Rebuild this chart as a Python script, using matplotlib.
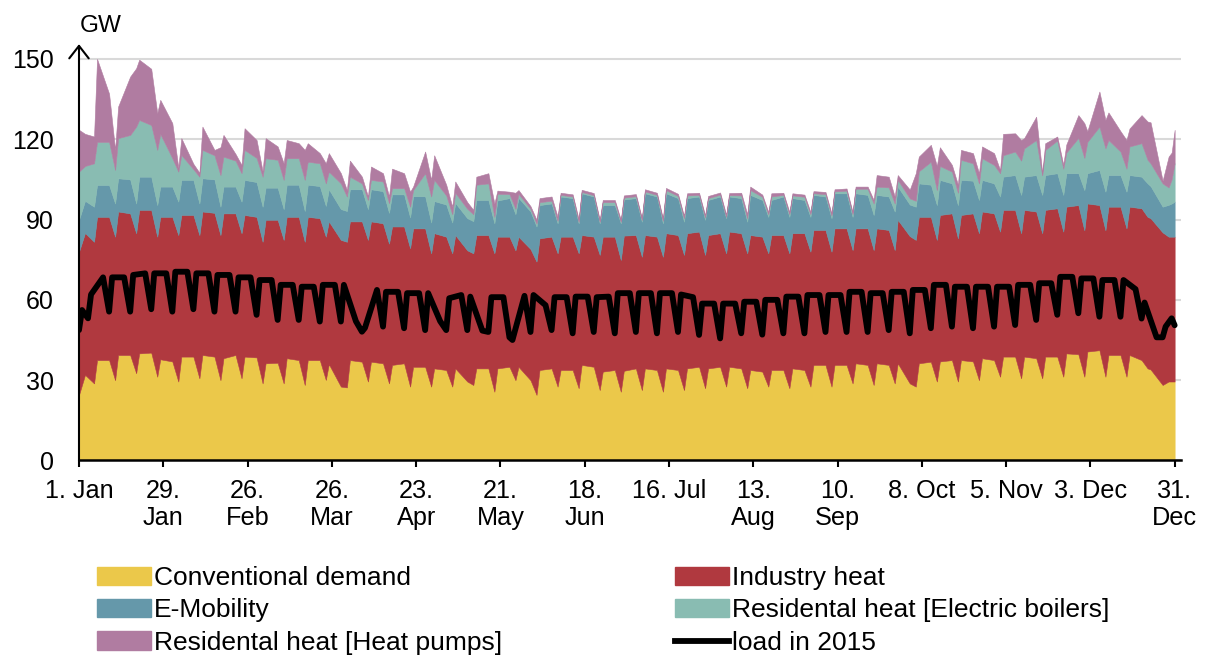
import matplotlib
matplotlib.use('Agg')
import matplotlib.pyplot as plt
from matplotlib.patches import Patch
from matplotlib.lines import Line2D

plt.rcParams['font.family'] = ['Liberation Sans', 'DejaVu Sans']

# Sample days (day of year, 0 = 1 Jan): Monday, Friday, Sunday of each week.
# The scenario year starts on a Tuesday, the 2015 load on a Thursday.
dias_cenario = [0, 2, 5] + [d for k in range(51) for d in (6 + 7 * k, 10 + 7 * k, 12 + 7 * k)] + [363, 364]
dias_2015 = [0, 1, 3] + [d for k in range(51) for d in (4 + 7 * k, 8 + 7 * k, 10 + 7 * k)] + [361, 363, 364]

# GW per layer
conventional = [24.5, 32, 28.8,
    37.5, 37.5, 30, 39.4, 39.4, 32.6, 40, 40.3, 31.3, 37.8, 37, 29.5,
    38.8, 38.8, 30.7, 39.4, 38.8, 30, 38.2, 39.4, 30.7, 38.8, 38.5, 28.8,
    36.3, 36.5, 28.8, 38.2, 37.5, 28.2, 37.5, 37.5, 30.1, 36, 27.6, 27.3,
    37.5, 36.9, 29.5, 36.9, 36.3, 28.8, 35.7, 36.3, 27.6, 35, 35, 27.6,
    34.4, 33.8, 27.6, 34.4, 29.5, 28.2, 34.4, 34.4, 25.7, 34.4, 35, 30,
    35, 30, 24.5, 33.8, 34.4, 27.6, 33.8, 33.8, 27, 35.7, 35, 26.3,
    33.2, 33.8, 25.7, 33.5, 34.4, 26.3, 34.4, 33.8, 25.7, 34.4, 33.8, 26.3,
    34.4, 35, 27, 34.4, 35, 27.6, 35, 34.4, 27, 33.8, 33.2, 27.6,
    33.8, 33.8, 27, 34.4, 33.8, 27.6, 35.7, 35.7, 27.6, 35.7, 35.7, 28.8,
    36.3, 35.7, 28.2, 36.3, 35.7, 28.8, 36.3, 28.8, 27.6, 36.3, 36.9, 29.5,
    37, 37.5, 29.5, 37.5, 37, 30, 38.2, 37.5, 31.3, 38.8, 38.8, 30.7,
    38.8, 38.2, 30.7, 38.8, 38.8, 31.3, 40, 39.7, 31.3, 40.7, 41.2, 31.3,
    39.4, 39.4, 31.3, 39.4, 37.5, 34.4, 34, 28.2, 29.5,
    29.5, 29.5]

industry_heat = [53.5, 53, 52.9,
    53.5, 53.5, 53.6, 53.6, 52.9, 52.3, 53.6, 53.3, 52.3, 53.2, 54, 54.7,
    52.9, 52.9, 53.5, 53.6, 53.7, 54.2, 54.1, 52.9, 54.2, 52.9, 52.5, 52.9,
    53.6, 53.4, 53.6, 52.8, 53.5, 53.5, 53.5, 53, 53.5, 53.3, 54.8, 54.4,
    51.8, 52.4, 52.9, 52.4, 52.3, 52.2, 51.7, 51.1, 51.7, 51.7, 51.7, 49.8,
    50.5, 49.8, 49.8, 49.8, 49, 49.2, 49.8, 49.8, 51.7, 49.2, 48.6, 48.5,
    48.6, 49, 49.8, 49.2, 49.2, 49.8, 49.8, 49.8, 50.4, 48.5, 48.6, 50.5,
    50.4, 49.8, 49.2, 50.5, 49.8, 49.8, 49.8, 49.8, 50.4, 50.5, 50.4, 50.5,
    50.5, 50.5, 49.8, 49.8, 49.9, 49.8, 50.5, 50.5, 50.4, 50.4, 50.4, 49.8,
    50.4, 50.4, 50.4, 50.5, 51.1, 50.4, 50.4, 50.4, 50.4, 51, 51, 49.8,
    50.4, 51, 50.4, 50.4, 50.4, 49.8, 53.6, 55, 54.8, 54.7, 54.1, 52.9,
    54.7, 54.8, 53.5, 54.2, 55.3, 54.9, 54.8, 54.8, 54.2, 54.8, 54.8, 54.2,
    54.8, 54.8, 54.2, 54.8, 55.4, 54.2, 54.8, 55.7, 54.7, 55.3, 54.2, 54.7,
    55.4, 55.4, 55.4, 55.4, 56.7, 56.6, 56.5, 57, 54.1,
    54.1, 54.1]

e_mobility = [11.9, 12, 13.1,
    11.9, 11.9, 12.4, 12.4, 12.7, 11.1, 12.4, 12.4, 11.8, 11.3, 11.3, 12.5,
    13.1, 13.1, 11.8, 12.4, 12.5, 10.6, 10, 10, 11.8, 13.1, 13, 13.1,
    12, 12, 11.5, 12, 12, 11.5, 12, 12, 11.5, 12, 11.5, 11.5,
    12, 12, 11.5, 12, 12, 11.5, 12, 12, 11.5, 12, 12, 11.5,
    12, 12, 11.5, 12, 12, 12, 13.1, 13.1, 11.2, 13.5, 14.4, 13.5,
    14.5, 14, 13.1, 12.4, 12.4, 11.2, 15, 14.4, 11.2, 15.6, 15, 11.8,
    11.8, 11.8, 13.7, 13.5, 13.8, 13.1, 15.6, 15, 12.5, 14.9, 13.8, 12.4,
    13.1, 13.1, 13.1, 13.1, 13.7, 13.1, 13.1, 13.1, 11.8, 15, 13.7, 13.6,
    13.1, 14.4, 13.6, 13.1, 12.4, 13, 13.1, 12.5, 12.5, 13.1, 13.1, 12.4,
    13.1, 12.5, 13.1, 12.5, 12.5, 14.4, 12.4, 11.8, 12.4, 12.5, 12, 13,
    13.1, 11.2, 12.4, 13.1, 12.2, 12.4, 11.8, 11.2, 13.1, 12.4, 13, 14.3,
    12.4, 13.6, 14.3, 13, 13.1, 13.7, 12.5, 11.9, 15, 11.3, 13.1, 14.4,
    11.8, 11.8, 13.7, 11.8, 11.8, 12.5, 12, 9.6, 11.9,
    12.4, 13.1]

electric_boilers = [18, 13, 16.2,
    16.1, 16.1, 12.5, 15, 16.6, 28.7, 21.2, 19.3, 20.6, 19.7, 10.6, 11.2,
    9.3, 4, 10, 10.6, 9, 11.8, 11.2, 9.7, 10.6, 11.2, 9, 11.2,
    11, 10.4, 10.9, 9.9, 9.9, 11.6, 8.6, 8.5, 8.4, 6.6, 9.6, 5.4,
    4.7, 2.2, 3.4, 3.5, 3.6, 3.6, 2.3, 2.3, 4, 2.3, 8.6, 9.7,
    7.9, 3.4, 3.1, 3.8, 3.5, 2.6, 5.7, 6.2, 2.4, 2.5, 1.5, 2,
    1.5, 1, 1.1, 1.1, 1, 0.9, 0.6, 0.6, 0.5, 0.5, 0.5, 0.5,
    1.1, 1.1, 0.5, 0.7, 0.7, 0.6, 0.7, 0.6, 0.9, 1.2, 0.8, 1.3,
    1, 0.6, 0.9, 0.7, 0.7, 0.5, 0.5, 1, 1.3, 1.8, 1.2, 1,
    1.3, 0.6, 1, 1, 1.2, 1, 0.6, 0.9, 1, 0.7, 1, 1,
    1.7, 2.3, 4.3, 3.1, 3.4, 3, 2.5, 2.3, 2.2, 4.5, 8.6, 5.6,
    5.2, 4.4, 4.6, 7.5, 6.5, 6.2, 8.1, 6.9, 8.7, 8, 8.8, 12.8,
    10.6, 13.1, 7.3, 9.4, 12.2, 9.8, 7.7, 13.2, 12, 11.7, 16.2, 16.2,
    13.1, 8.8, 8.6, 10.7, 12.5, 8.8, 8.5, 8.7, 6.5,
    9, 14.3]

heat_pumps = [15.6, 12, 10,
    31, 18, 7.5, 11.8, 21.8, 21.8, 22.5, 21, 13.7, 12.7, 13.1, 1.5,
    6.3, 2, 1.5, 8.7, 2, 10.4, 8.1, 2.5, 3.1, 8.1, 6.7, 2,
    7.5, 5, 6.2, 6.8, 5.6, 11.2, 6.9, 3.8, 7.5, 6.9, 3.8, 2.4,
    6, 2.5, 1.3, 5, 3.1, 2.5, 7.3, 5.6, 5.6, 1.3, 8.1, 6.2,
    9.2, 4, 2.8, 4.2, 2.5, 1.6, 3, 3.8, 5, 1.2, 0.9, 6,
    1.4, 1, 1.4, 1.5, 1.6, 1.5, 0.8, 0.8, 1, 0.8, 0.8, 0.8,
    0.8, 0.8, 0.8, 0.8, 0.8, 0.7, 0.8, 0.8, 0.8, 0.8, 0.8, 0.8,
    0.8, 0.8, 0.8, 0.8, 0.8, 0.8, 0.8, 1, 1.5, 1.3, 0.8, 0.8,
    1.2, 0.8, 0.8, 0.8, 0.8, 0.8, 0.8, 0.8, 0.8, 0.8, 0.8, 0.8,
    0.8, 0.8, 1.3, 4.3, 4, 2.6, 1.8, 3.3, 10.3, 5.5, 6.3, 9,
    7, 2.5, 3, 3.7, 3.8, 3.8, 4.4, 4.4, 1.2, 8, 6.8, 7.7,
    3.8, 8.7, 1, 2.5, 1.5, 1.5, 3, 8.5, 13, 4, 13.1, 10.6,
    10.3, 7.6, 10.7, 6.7, 10.5, 14.3, 15.3, 1, 11.5,
    10, 12.5]

load_2015 = [48.7, 56.2, 53.1,
    62, 68.4, 55.6, 68.4, 68.4, 55.6, 69.3, 69.9, 56.5, 69.9, 69.9, 55.6,
    70.5, 70.5, 56.5, 69.9, 69.9, 55.6, 69.3, 69.3, 55.6, 68.4, 68.4, 54.4,
    67.4, 67.4, 52.5, 65.6, 65.6, 52.5, 64.9, 64.9, 51.9, 65.6, 65.6, 51.9,
    65.6, 52, 48.1, 49.5, 63.7, 50, 63, 63, 49.4, 62.5, 62.5, 48.7,
    62.5, 52, 48.7, 60.6, 61.8, 48.7, 61.2, 48.5, 48, 61, 61, 46,
    45, 61.5, 48, 61.8, 58, 48.7, 61, 61, 47.5, 61.2, 61.2, 48,
    61, 61.2, 47.5, 62.5, 62.5, 48, 62.5, 62.5, 47.5, 62.5, 62.5, 48,
    62, 61, 46.9, 58.6, 58.6, 45.6, 58.6, 58.6, 47.5, 59.3, 59.3, 47,
    60, 60, 47.5, 61.2, 61.2, 47.5, 61.8, 61.8, 48, 61.8, 61.8, 48,
    63, 63, 48, 62.5, 62.5, 48.7, 63, 63, 47.5, 63.7, 63.7, 49.4,
    65.6, 65.6, 50, 64.9, 64.9, 49.4, 64.9, 64.9, 50, 64.9, 64.9, 50.6,
    65.6, 65.6, 52.5, 66.2, 66.2, 54.4, 68.6, 68.6, 55, 68, 68, 53.7,
    67.4, 67.4, 53.7, 67.4, 64, 53, 59, 46, 46,
    50, 53.1, 50.5]

series_labels = ['Conventional demand', 'Industry heat', 'E-Mobility',
                 'Residental heat [Electric boilers]', 'Residental heat [Heat pumps]']
series_colors = ['#ebc84a', '#b0393f', '#6598aa', '#89bcb2', '#b07ca1']

tick_days = [0, 28, 56, 84, 112, 140, 168, 196, 224, 252, 280, 308, 336, 364]
tick_labels = ['1. Jan', '29.\nJan', '26.\nFeb', '26.\nMar', '23.\nApr', '21.\nMay', '18.\nJun',
               '16. Jul', '13.\nAug', '10.\nSep', '8. Oct', '5. Nov', '3. Dec', '31.\nDec']
y_ticks = [0, 30, 60, 90, 120, 150]


def gerar_grafico():
    fig = plt.figure(figsize=(12.06, 6.6), dpi=100)
    ax = fig.add_axes([0.0655, 0.3023, 0.9135, 0.6308])

    ax.stackplot(dias_cenario, conventional, industry_heat, e_mobility,
                 electric_boilers, heat_pumps, colors=series_colors,
                 edgecolor='face', linewidth=0.4, zorder=2)
    ax.plot(dias_2015, load_2015, color='black', lw=4.2,
            solid_joinstyle='round', solid_capstyle='round', zorder=3)

    ax.set_xlim(0, 366)
    ax.set_ylim(0, 155.5)
    ax.set_yticks(y_ticks)
    ax.set_xticks(tick_days)
    ax.set_xticklabels(tick_labels, fontsize=18.2, linespacing=1.2)
    ax.tick_params(axis='y', length=0, pad=18, labelsize=18)
    ax.tick_params(axis='x', length=5, width=1.5, pad=8, direction='out')
    ax.yaxis.grid(True, color='#d9d9d9', lw=1.5)
    ax.set_axisbelow(True)

    for side in ['top', 'right', 'left']:
        ax.spines[side].set_visible(False)
    ax.spines['bottom'].set_linewidth(1.8)
    ax.spines['bottom'].set_zorder(4)

    # y axis drawn as an arrow
    ax.annotate('', xy=(0, 155.5), xytext=(0, 0),
                arrowprops=dict(arrowstyle='->,head_length=0.45,head_width=0.35',
                                lw=1.5, color='black', mutation_scale=20,
                                shrinkA=0, shrinkB=0),
                annotation_clip=False, zorder=5)
    fig.text(80 / 1206, 1 - 26 / 660, 'GW', ha='left', va='center', fontsize=17.5)

    # legend: filled order is column by column
    handles = [Patch(color=c) for c in series_colors]
    handles.append(Line2D([0], [0], color='black', lw=4.2))
    labels = series_labels + ['load in 2015']
    order = [0, 2, 4, 1, 3, 5]
    fig.legend([handles[i] for i in order], [labels[i] for i in order],
               ncol=2, loc='upper left', bbox_to_anchor=(97 / 1206, 1 - 566 / 660),
               frameon=False, fontsize=19, handlelength=2.05, handleheight=0.7,
               handletextpad=0.12, columnspacing=6.55, labelspacing=0.32,
               borderpad=0, borderaxespad=0)

    fig.savefig('out.png', dpi=100)


if __name__ == "__main__":
    gerar_grafico()
